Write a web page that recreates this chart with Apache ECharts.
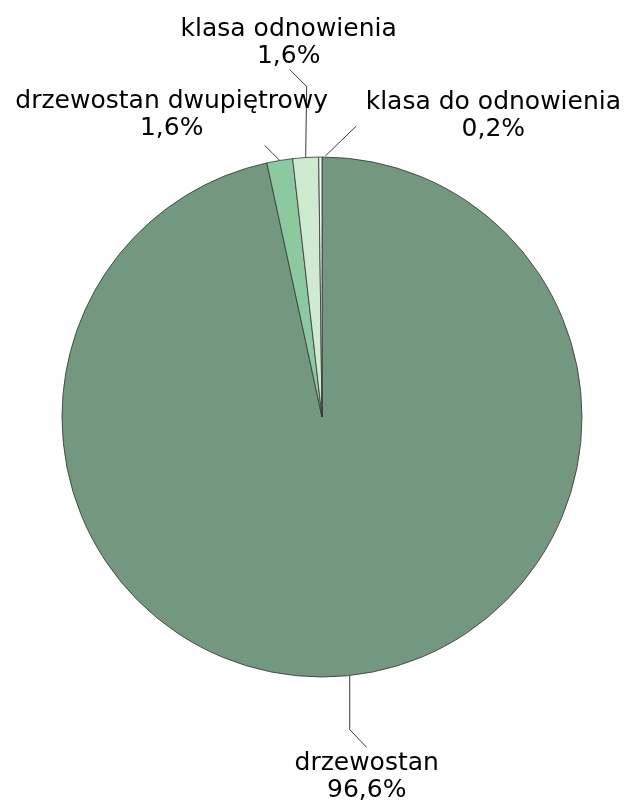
<!DOCTYPE html>
<html>
<head>
<meta charset="utf-8">
<style>
html,body{margin:0;padding:0;background:#fff;}
#chart{width:630px;height:803px;}
</style>
<script src="https://cdn.jsdelivr.net/npm/echarts@6/dist/echarts.min.js"></script>
</head>
<body>
<div id="chart"></div>
<script>
const categories = ['drzewostan', 'drzewostan dwupiętrowy', 'klasa odnowienia', 'klasa do odnowienia'];
const values = [96.6, 1.6, 1.6, 0.2];
const colors = ['#73987F', '#8DC9A0', '#CFEACF', '#F4FAF4'];

// label line shape and label placement, relative to the slice edge point
const lineBends = [
  [[0, 54], [17, 72]],
  [[-7, -7], [-15, -15]],
  [[1, -71], [-16, -88]],
  [[20.5, -16], [36, -31]]
];
const startShift = [[0, 0], [0, 0], [0, 0], [5, -1]];
const labelOffsets = [[17, 74], [-108, -72], [-17, -142], [173, -68]];

const chart = echarts.init(document.getElementById('chart'));
const fmt = v => v.toFixed(1).replace('.', ',') + '%';

chart.setOption({
  animation: false,
  series: [{
    type: 'pie',
    center: [322, 417],
    radius: 260,
    startAngle: 90,
    clockwise: true,
    avoidLabelOverlap: false,
    itemStyle: { borderColor: '#333', borderWidth: 0.8 },
    label: {
      show: true,
      position: 'outside',
      fontFamily: 'DejaVu Sans',
      fontSize: 25,
      lineHeight: 27,
      color: '#000',
      align: 'center',
      formatter: p => p.name + '\n' + fmt(p.value)
    },
    labelLine: { show: true, length: 20, length2: 10, lineStyle: { color: '#3a3a3a', width: 1 } },
    labelLayout: function (params) {
      const i = params.dataIndex;
      const p0 = params.labelLinePoints[0];
      const s = [p0[0] + startShift[i][0], p0[1] + startShift[i][1]];
      const pts = [s].concat(lineBends[i].map(b => [p0[0] + b[0], p0[1] + b[1]]));
      return {
        x: p0[0] + labelOffsets[i][0],
        y: p0[1] + labelOffsets[i][1],
        align: 'center',
        verticalAlign: 'top',
        labelLinePoints: pts
      };
    },
    data: categories.map((c, i) => ({ name: c, value: values[i], itemStyle: { color: colors[i] } }))
  }]
});
</script>
</body>
</html>
